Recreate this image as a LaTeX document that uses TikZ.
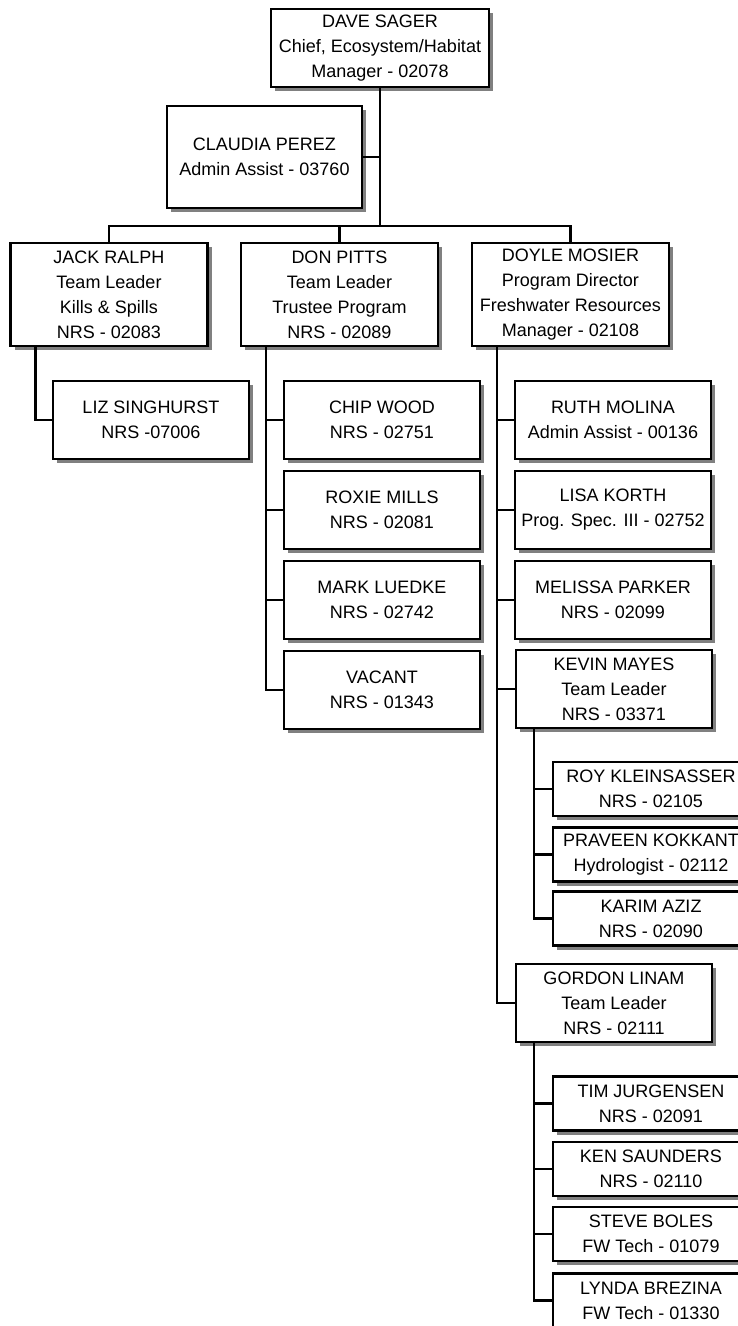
\documentclass[tikz,border=0pt]{standalone}
\usepackage{fontspec}
\setmainfont{Liberation Sans}
\usetikzlibrary{shadows}
\tikzset{staffbox/.style={draw,line width=2.5pt,fill=white,align=center,inner sep=0pt,
  minimum width=196pt,minimum height=78pt,font=\fontsize{18}{25}\selectfont,
  drop shadow={shadow xshift=4pt,shadow yshift=-4pt,fill=black!50,opacity=1}},
leadbox/.style={staffbox,minimum width=197pt,minimum height=103pt},
smallbox/.style={staffbox,minimum height=54pt},
orgline/.style={line width=2.5pt}}

\begin{document}
\begin{tikzpicture}[x=1pt,y=-1pt]
\useasboundingbox (0,0) rectangle (738,1326);
% top of the chart
\node[staffbox,minimum width=218pt](dave) at (380,48) {DAVE SAGER\\Chief, Ecosystem/Habitat\\Manager - 02078};
\node[staffbox,minimum width=195pt,minimum height=102pt](claudia) at (264.5,157) {CLAUDIA PEREZ\\Admin Assist - 03760};
% team leaders
\node[leadbox](jack) at (109,294.5) {JACK RALPH\\Team Leader\\Kills \& Spills\\NRS - 02083};
\node[leadbox](don) at (339.5,294.5) {DON PITTS\\Team Leader\\Trustee Program\\NRS - 02089};
\node[leadbox](doyle) at (570.5,294.5) {DOYLE MOSIER\\Program Director\\Freshwater Resources\\Manager - 02108};
% staff under jack and don
\node[staffbox](liz) at (151,420) {LIZ SINGHURST\\NRS -07006};
\node[staffbox](chip) at (382,420) {CHIP WOOD\\NRS - 02751};
\node[staffbox](roxie) at (382,510) {ROXIE MILLS\\NRS - 02081};
\node[staffbox](mark) at (382,600) {MARK LUEDKE\\NRS - 02742};
\node[staffbox](vacant) at (382,690) {VACANT\\NRS - 01343};
% staff under doyle
\node[staffbox](ruth) at (613,420) {RUTH MOLINA\\Admin Assist - 00136};
\node[staffbox](lisa) at (613,510) {LISA KORTH\\Prog. Spec. III - 02752};
\node[staffbox](melissa) at (613,600) {MELISSA PARKER\\NRS - 02099};
\node[staffbox](kevin) at (614,689) {KEVIN MAYES\\Team Leader\\NRS - 03371};
\node[staffbox](gordon) at (614,1003) {GORDON LINAM\\Team Leader\\NRS - 02111};
% kevin's team
\node[smallbox](roy) at (651,789) {ROY KLEINSASSER\\NRS - 02105};
\node[smallbox](praveen) at (651,854.5) {PRAVEEN KOKKANT\\Hydrologist - 02112};
\node[smallbox](karim) at (651,918.5) {KARIM AZIZ\\NRS - 02090};
% gordon's team
\node[smallbox](tim) at (651,1103.5) {TIM JURGENSEN\\NRS - 02091};
\node[smallbox](ken) at (651,1169) {KEN SAUNDERS\\NRS - 02110};
\node[smallbox](steve) at (651,1234) {STEVE BOLES\\FW Tech - 01079};
\node[smallbox](lynda) at (651,1300.5) {LYNDA BREZINA\\FW Tech - 01330};
% connectors
\coordinate (bus) at (380,226);
\draw[orgline] (dave.south) -- (bus);
\draw[orgline] (claudia.east) -- (claudia.east -| bus);
\draw[orgline] (jack.north) |- (bus) -| (doyle.north);
\draw[orgline] (don.north) -- (don.north |- bus);
\draw[orgline] ([xshift=26pt]jack.south west) |- (liz.west);
\foreach \c in {chip,roxie,mark,vacant}
  \draw[orgline] ([xshift=26pt]don.south west) |- (\c.west);
\foreach \c in {ruth,lisa,melissa,kevin,gordon}
  \draw[orgline] ([xshift=26pt]doyle.south west) |- (\c.west);
\foreach \c in {roy,praveen,karim}
  \draw[orgline] ([xshift=19pt]kevin.south west) |- (\c.west);
\foreach \c in {tim,ken,steve,lynda}
  \draw[orgline] ([xshift=19pt]gordon.south west) |- (\c.west);
\end{tikzpicture}
\end{document}
